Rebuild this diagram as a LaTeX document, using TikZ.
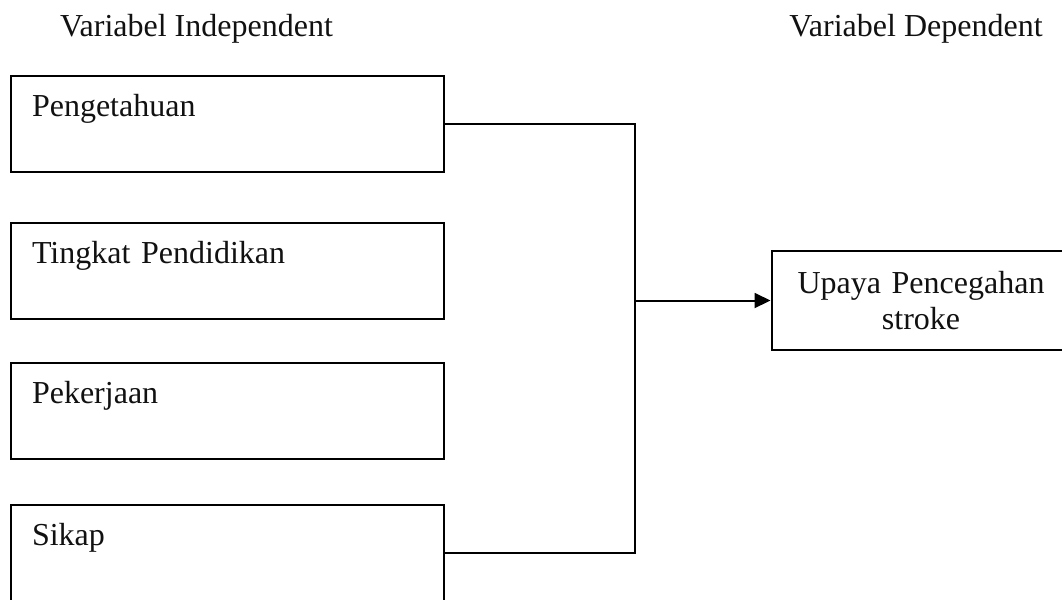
\documentclass[tikz,border=0pt]{standalone}
\usepackage{fontspec}
\setmainfont{Liberation Serif}
\usepackage{tikz}
\usetikzlibrary{positioning,arrows.meta,calc}
\definecolor{KerangkaLine}{HTML}{000000}
\definecolor{KerangkaText}{HTML}{111111}

\begin{document}
\begin{tikzpicture}[x=0.375pt,y=-0.375pt,>=Latex,
 varbox/.style={draw=KerangkaLine,line width=1.05pt,minimum width=162.4pt,
   text width=146.6pt,align=left,inner xsep=7.9pt,inner ysep=0pt,
   text height=15pt,text depth=21pt,font=\fontsize{12pt}{13.8pt}\selectfont,text=KerangkaText},
 depbox/.style={draw=KerangkaLine,line width=1.05pt,minimum width=111.8pt,minimum height=37.1pt,
   text width=100pt,align=center,inner sep=0pt,font=\fontsize{12pt}{13.8pt}\selectfont,text=KerangkaText},
 link/.style={draw=KerangkaLine,line width=0.75pt},
 head/.style={anchor=base,font=\fontsize{12pt}{13.8pt}\selectfont,text=KerangkaText}]
\useasboundingbox (0,0) rectangle (1062,599);
\node[head] (indep) at (196.5,36) {Variabel Independent};
\node[head] (dep) at (916,36) {Variabel Dependent};
\node[varbox] (pengetahuan) at (227.5,124) {Pengetahuan};
\node[varbox] (pendidikan) at (227.5,271) {Tingkat Pendidikan};
\node[varbox] (pekerjaan) at (227.5,411) {Pekerjaan};
\node[varbox] (sikap) at (227.5,553) {Sikap};
\node[depbox] (upaya) at (921,300.5) {Upaya Pencegahan\\stroke};
\coordinate (join) at (635,300.5);
\draw[link] (pengetahuan.east) -| (join);
\draw[link] (sikap.east) -| (join);
\draw[link,-{Triangle[length=6pt,width=5.6pt]}] (join) -- (upaya.west);
\end{tikzpicture}
\end{document}
